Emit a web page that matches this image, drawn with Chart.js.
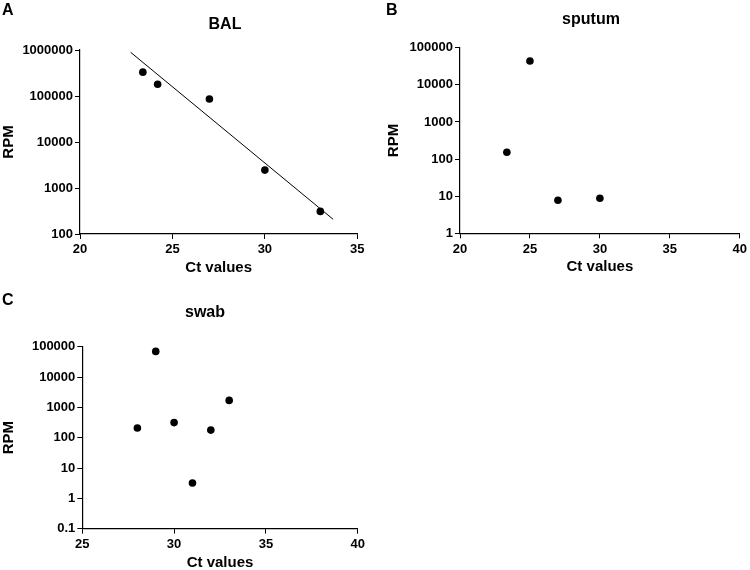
<!DOCTYPE html>
<html><head><meta charset="utf-8">
<script src="https://cdn.jsdelivr.net/npm/chart.js@4.4.0/dist/chart.umd.min.js"></script>
<style>
html,body{margin:0;padding:0;background:#fff;overflow:hidden;width:750px;height:570px;}
canvas{position:absolute;}
</style></head><body>
<canvas id="cA" width="375" height="280" style="left:0;top:0"></canvas>
<canvas id="cB" width="370" height="280" style="left:380px;top:0"></canvas>
<canvas id="cC" width="375" height="295" style="left:0;top:280px"></canvas>
<script>
// ---- data ----
const balCt = [23.4, 24.2, 27.0, 30.0, 33.0];
const balRpm = [330000, 180000, 86000, 2450, 310];
const balFitCt = [22.74, 33.69];
const balFitRpm = [891000, 209];
const balXTicks = [20, 25, 30, 35];
const balYTicks = [100, 1000, 10000, 100000, 1000000];

const sputumCt = [23.35, 25.0, 27.0, 30.0];
const sputumRpm = [152, 44000, 7.8, 8.8];
const sputumXTicks = [20, 25, 30, 35, 40];
const sputumYTicks = [1, 10, 100, 1000, 10000, 100000];

const swabCt = [28, 29, 30, 31, 32, 33];
const swabRpm = [210, 70000, 315, 3.2, 178, 1700];
const swabXTicks = [25, 30, 35, 40];
const swabYTicks = [0.1, 1, 10, 100, 1000, 10000, 100000];

const FONT = "'Liberation Sans', Arial, sans-serif";

function toPts(xs, ys) { return xs.map((x, i) => ({x: x, y: ys[i]})); }

const textPlugin = {
  id: 'panelText',
  afterDraw(chart) {
    const o = chart.options.plugins.panelText;
    const ctx = chart.ctx;
    ctx.save();
    ctx.fillStyle = '#000';
    ctx.textBaseline = 'alphabetic';
    ctx.font = 'bold 16px ' + FONT;
    ctx.textAlign = 'left';
    ctx.fillText(o.letter, o.letterX, o.letterY);
    ctx.font = 'bold 16px ' + FONT;
    ctx.textAlign = 'center';
    ctx.fillText(o.title, o.titleX, o.titleY);
    ctx.restore();
  }
};

function makePanel(id, p) {
  const canvas = document.getElementById(id);
  const W = canvas.width, H = canvas.height;
  const a = p.area;
  const datasets = [{
    type: 'scatter',
    data: toPts(p.xs, p.ys),
    pointRadius: 3.8,
    pointBackgroundColor: '#000',
    pointBorderColor: '#000',
    pointBorderWidth: 0,
    showLine: false
  }];
  if (p.fitX) {
    datasets.push({
      type: 'line',
      data: toPts(p.fitX, p.fitY),
      borderColor: '#000',
      borderWidth: 1,
      pointRadius: 0,
      fill: false,
      tension: 0
    });
  }
  new Chart(canvas, {
    type: 'scatter',
    data: {datasets},
    options: {
      responsive: false,
      animation: false,
      events: [],
      layout: {padding: {left: 0, top: a.top, right: W - a.right, bottom: 0}},
      plugins: {
        legend: {display: false},
        tooltip: {enabled: false},
        panelText: p.text
      },
      scales: {
        x: {
          type: 'linear',
          min: p.xTicks[0],
          max: p.xTicks[p.xTicks.length - 1],
          afterFit: s => { s.height = H - a.bottom; },
          afterBuildTicks: s => { s.ticks = p.xTicks.map(v => ({value: v})); },
          ticks: {
            autoSkip: false, maxRotation: 0, padding: 3,
            color: '#000', font: {family: FONT, size: 13, weight: 'bold'},
            callback: v => String(v)
          },
          grid: {drawOnChartArea: false, drawTicks: true, tickLength: 5, tickColor: '#000', tickWidth: 1},
          border: {color: '#000', width: 1.2},
          title: {display: true, text: 'Ct values', color: '#000',
                  font: {family: FONT, size: 15, weight: 'bold'}, padding: {top: 0, bottom: p.xTitlePad}}
        },
        y: {
          type: 'logarithmic',
          min: p.yTicks[0],
          max: p.yTicks[p.yTicks.length - 1],
          afterFit: s => { s.width = a.left; },
          afterBuildTicks: s => { s.ticks = p.yTicks.map(v => ({value: v})); },
          ticks: {
            autoSkip: false, padding: 2,
            color: '#000', font: {family: FONT, size: 13, weight: 'bold'},
            callback: v => String(v)
          },
          grid: {drawOnChartArea: false, drawTicks: true, tickLength: 5, tickColor: '#000', tickWidth: 1},
          border: {color: '#000', width: 1.2},
          title: {display: true, text: 'RPM', color: '#000',
                  font: {family: FONT, size: 15, weight: 'bold'}, padding: {top: p.yTitlePad, bottom: 0}}
        }
      }
    },
    plugins: [textPlugin]
  });
}

makePanel('cA', {
  xs: balCt, ys: balRpm, fitX: balFitCt, fitY: balFitRpm,
  xTicks: balXTicks, yTicks: balYTicks,
  area: {left: 80, top: 50, right: 357.3, bottom: 234},
  xTitlePad: 3, yTitlePad: 0,
  text: {letter: 'A', letterX: 2, letterY: 15, title: 'BAL', titleX: 225, titleY: 29}
});
makePanel('cB', {
  xs: sputumCt, ys: sputumRpm,
  xTicks: sputumXTicks, yTicks: sputumYTicks,
  area: {left: 80, top: 47.7, right: 361.7, bottom: 233.3},
  xTitlePad: 4, yTitlePad: 5,
  text: {letter: 'B', letterX: 6, letterY: 15, title: 'sputum', titleX: 211, titleY: 24}
});
makePanel('cC', {
  xs: swabCt, ys: swabRpm,
  xTicks: swabXTicks, yTicks: swabYTicks,
  area: {left: 82.3, top: 66.7, right: 357.7, bottom: 248.7},
  xTitlePad: 3, yTitlePad: 0,
  text: {letter: 'C', letterX: 2, letterY: 25, title: 'swab', titleX: 205, titleY: 37}
});
</script>
</body></html>
